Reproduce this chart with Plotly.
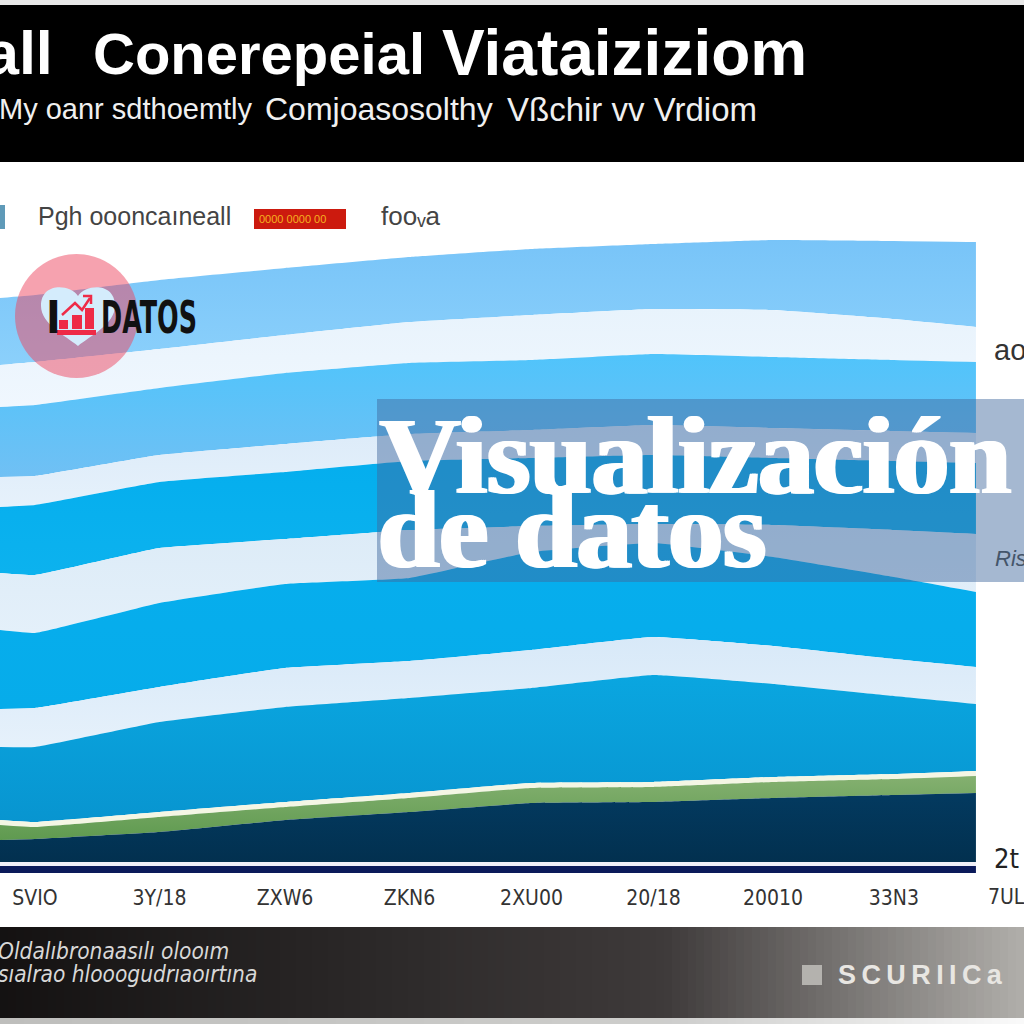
import plotly.graph_objects as go

# ---------- data ----------
X = [-0.287, 0, 1.02, 2.05, 3.07, 4.07, 5.07, 6.05, 7.04, 7.713]
top_band1 = [575, 578, 593, 605, 616, 624, 629, 633, 632, 631]
bot_band1 = [508, 511, 524, 538, 551, 558, 564, 563, 554, 546]
bot_white1 = [466, 468, 485, 500, 510, 513, 519, 516, 513, 511]
bot_band2 = [396, 397, 418, 429, 439, 443, 448, 445, 442, 440]
bot_white2 = [366, 368, 391, 401, 412, 415, 418, 415, 412, 410]
bot_band3 = [300, 298, 325, 334, 343, 347, 349, 348, 343, 339]
bot_white3 = [243, 240, 270, 289, 295, 321, 330, 316, 296, 281]
bot_band4 = [164, 165, 186, 205, 212, 223, 236, 227, 214, 206]
bot_white4 = [126, 126, 151, 166, 175, 185, 198, 189, 177, 169]
bot_band5 = [53, 51, 61, 71, 80, 90, 91, 96, 99, 102]
bot_cream = [48, 46, 56, 66, 75, 85, 86, 91, 94, 97]
bot_green = [33, 34, 41, 53, 61, 70, 71, 75, 78, 80]
bot_navy = [11, 11, 11, 11, 11, 11, 11, 11, 11, 11]
bot_line = [7, 7, 7, 7, 7, 7, 7, 7, 7, 7]
baseline = [0, 0, 0, 0, 0, 0, 0, 0, 0, 0]

tick_pos = [0, 1.02, 2.05, 3.07, 4.07, 5.07, 6.05, 7.04]
tick_txt = ["SVIO", "3Y/18", "ZXW6", "ZKN6", "2XU00", "20/18", "20010", "33N3"]
last_tick_txt = "7UL6"

boundaries = [bot_band1, bot_white1, bot_band2, bot_white2, bot_band3, bot_white3,
              bot_band4, bot_white4, bot_band5, bot_cream, bot_green, bot_navy,
              bot_line, baseline]
fills = [("#78c4f8", "#8bd0fb"), ("#e8f3fc", "#f0f7fe"), ("#50c4fb", "#70c0f4"),
         ("#dcebf9", "#e6f1fb"), ("#04aeee", "#0cb2ee"), ("#dcebf7", "#e4f0fa"),
         ("#06aeee", "#06acea"), ("#d8e9f8", "#e6f1fb"), ("#0aa6e0", "#0895d0"),
         ("#f4f6e4", "#f4f6e4"), ("#84b070", "#5f9a50"), ("#033a60", "#02304f"),
         ("#f0f0f8", "#f0f0f8"), ("#0a1a5a", "#0a1a5a")]

NARROW = "DejaVu Sans Condensed, Roboto Condensed, Open Sans Condensed, Liberation Sans"
W = 1024.0
def px(v): return v / W
def py(v): return 1 - v / W

fig = go.Figure()
fig.add_trace(go.Scatter(x=X, y=top_band1, mode="lines", line=dict(width=0, shape="spline", smoothing=0.3),
                         hoverinfo="skip", showlegend=False))
for vals, (c_top, c_bot) in zip(boundaries, fills):
    fig.add_trace(go.Scatter(
        x=X, y=vals, mode="lines", line=dict(width=0, shape="spline", smoothing=0.3),
        fill="tonexty",
        fillgradient=dict(type="vertical", colorscale=[[0, c_bot], [1, c_top]]),
        hoverinfo="skip", showlegend=False))

shapes = []
def rect(x0, y0, x1, y1, color):
    shapes.append(dict(type="rect", xref="paper", yref="paper", x0=px(x0), x1=px(x1),
                       y0=py(y0), y1=py(y1), fillcolor=color, line=dict(width=0)))

def mix(a, b, t):
    return "rgb(%d,%d,%d)" % tuple(round(a[i] + (b[i] - a[i]) * t) for i in range(3))

# header
rect(0, 0, 1024, 5, "#e8e8e8")
rect(0, 5, 1024, 162, "#000000")

# footer gradient
for i in range(128):
    x = i * 8
    if x < 660:
        c = mix((20, 18, 18), (62, 58, 58), x / 660)
        c2 = mix((190, 190, 188), (205, 205, 203), x / 660)
    else:
        c = mix((62, 58, 58), (178, 176, 172), (x - 660) / 364)
        c2 = mix((205, 205, 203), (250, 250, 250), (x - 660) / 364)
    rect(x, 927, x + 9, 1018, c)
    rect(x, 1018, x + 9, 1024, c2)

# legend keys
rect(0, 205, 5, 229, "#5f9ab8")
rect(254, 209, 346, 229, "#cc1a0e")
rect(802, 965, 822, 985, "#b4b2ae")

# overlay band of the title
rect(377, 399, 1024, 582, "rgba(64,105,157,0.47)")

# logo circle
shapes.append(dict(type="circle", xref="paper", yref="paper", x0=px(15), x1=px(138),
                   y0=py(254), y1=py(378), fillcolor="rgba(238,70,95,0.5)", line=dict(width=0)))
# heart
def P(x, y): return f"{px(x):.5f},{py(y):.5f}"
heart = (f"M{P(78,296)} C{P(70,284)},{P(41,282)},{P(41,306)} "
         f"C{P(41,324)},{P(66,336)},{P(78,346)} "
         f"C{P(90,336)},{P(115,324)},{P(115,306)} C{P(115,282)},{P(86,284)},{P(78,296)} Z")
shapes.append(dict(type="path", xref="paper", yref="paper", path=heart,
                   fillcolor="#d4ecfc", line=dict(width=0)))
# icon
RED = "#ee2b47"
rect(59, 320, 68, 329, RED)
rect(72, 315, 82, 329, RED)
rect(85, 308, 94, 329, RED)
rect(57, 330, 96, 335, RED)
arrow = f"M{P(62,315)} L{P(75,303)} L{P(82,310)} L{P(90,298)}"
shapes.append(dict(type="path", xref="paper", yref="paper", path=arrow,
                   line=dict(color=RED, width=2.5)))
head = f"M{P(83,296)} L{P(91,296)} L{P(91,304)}"
shapes.append(dict(type="path", xref="paper", yref="paper", path=head,
                   line=dict(color=RED, width=2.5)))

ann = []
def text(x, y, s, size, color="#222", family="Liberation Sans", anchor="left", shadow=None):
    font = dict(size=size, color=color, family=family)
    if shadow:
        font["shadow"] = shadow
    ann.append(dict(xref="paper", yref="paper", x=px(x), y=py(y), text=s, showarrow=False,
                    xanchor=anchor, yanchor="middle", align="left", font=font))

# header text
text(55, 53, "<b>all</b>", 61, "#ffffff", anchor="right")
text(91, 53, "<b>Conerepeial</b>", 58, "#ffffff")
text(440, 53, "<b>Viataiziziom</b>", 64, "#ffffff")
text(-3, 109, "My oanr sdthoemtly", 29, "#f0f0f0")
text(263, 109, "Comjoasosolthy", 32, "#f0f0f0")
text(505, 109, "Vßchir vv Vrdiom", 33, "#f0f0f0")
# legend text
text(36, 216, "Pgh oooncaıneall", 25, "#444444")
text(257, 219, "0000 0000 00", 11, "#f5b020")
text(379, 216, "fooᵥa", 26, "#444444")
# right axis fragments
text(992, 350, "ao", 29, "#333333")
text(993, 558, "<i>Ris</i>", 22, "#44556a")
text(992, 858, "2t", 27, "#222222", NARROW)
text(986, 897, last_tick_txt, 21, "#333333", NARROW)
# footer text
text(-4, 951, "<i>Oldalıbronaasılı olooım</i>", 22.5, "#d8d8d8", NARROW)
text(-4, 974, "<i>sıalrao hlooogudrıaoırtına</i>", 22.5, "#d8d8d8", NARROW)
text(836, 975, "<b>S\u2009C\u2009U\u2009R\u2009I\u2009I\u2009C\u2009a</b>", 27, "#e8e6e2")
# logo text
text(44, 317, "<b>I</b>", 44, "#111111", NARROW)
text(99, 317, "<b>DATOS</b>", 44, "#111111", NARROW)
# big title
THICK = "2px 0 0 #fff, -2px 0 0 #fff"
text(378, 455, "<b>Visualización</b>", 111, "#ffffff", "Liberation Serif", shadow=THICK)
text(376, 530, "<b>de datos</b>", 110, "#ffffff", "Liberation Serif", shadow=THICK)

fig.update_layout(
    width=1024, height=1024, margin=dict(l=0, r=0, t=0, b=0),
    paper_bgcolor="#ffffff", plot_bgcolor="#ffffff", showlegend=False,
    shapes=shapes, annotations=ann,
    xaxis=dict(range=[-0.287, 8.107], domain=[0, 1], anchor="free", position=151 / 1024,
               tickmode="array", tickvals=tick_pos, ticktext=tick_txt, ticks="", showgrid=False,
               zeroline=False, showline=False, ticklabelstandoff=10,
               tickfont=dict(size=21, color="#333333", family=NARROW)),
    yaxis=dict(range=[-151, 873], domain=[0, 1], visible=False, showgrid=False, zeroline=False),
)
squeeze = """
document.body.style.margin='0';document.body.style.overflow='hidden';
document.querySelectorAll('g.annotation text').forEach(function(t){
  if(t.textContent==='DATOS'){
    var b=t.getBBox(), s=96/b.width;
    t.setAttribute('transform','translate('+(b.x*(1-s))+',0) scale('+s+',1)');
  }
});
"""
fig.write_html("out.html", config=dict(displayModeBar=False), post_script=squeeze)
